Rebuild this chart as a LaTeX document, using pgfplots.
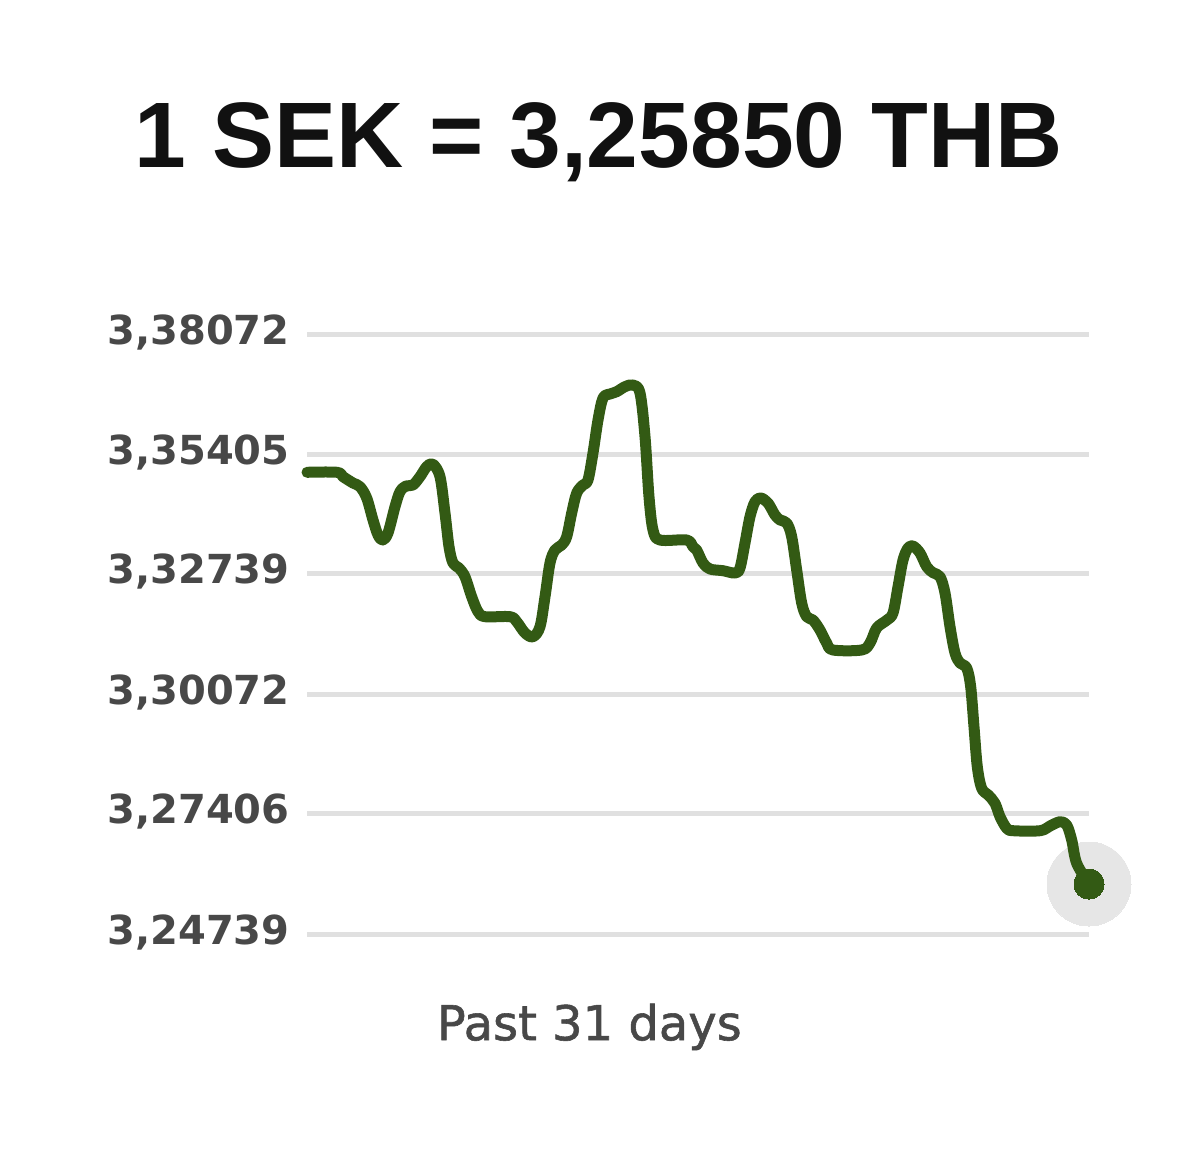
\documentclass[border=0pt]{standalone}
\usepackage{pgfplots}
\pgfplotsset{compat=1.18}
\usepackage{fontspec}
\setmainfont{DejaVu Sans}
\newfontfamily\titlefont{Liberation Sans}
\newfontfamily\medfont[FakeBold=1.2]{DejaVu Sans}
\definecolor{linegreen}{HTML}{335A14}
\definecolor{gridgray}{HTML}{E0E0E0}
\definecolor{halogray}{HTML}{E6E6E6}
\definecolor{labelgray}{HTML}{484848}
\definecolor{titleblack}{HTML}{111111}
\begin{document}
\begin{tikzpicture}
\begin{axis}[
  scale only axis,
  width=391pt, height=300pt,
  xmin=0, xmax=30,
  ymin=3.24739, ymax=3.38072,
  clip=false,
  clip mode=individual,
  axis line style={draw=none},
  tick style={draw=none},
  xtick=\empty,
  ytick={3.24739,3.27406,3.30072,3.32739,3.35405,3.38072},
  yticklabel style={font=\bfseries\fontsize{20}{24}\selectfont, text=labelgray, anchor=east, inner sep=0pt, xshift=-8.5pt, yshift=1pt,
    /pgf/number format/.cd, fixed, fixed zerofill, precision=5, use comma, assume math mode=true},
  ymajorgrids,
  major grid style={draw=gridgray, line width=2.5pt},
]
% invisible bounding frame for the whole picture
\path (rel axis cs:-0.3926,-0.3817) rectangle (rel axis cs:1.1151,1.5567);
\addplot[only marks, mark=*, mark size=21pt, color=halogray, mark options={draw=halogray, fill=halogray, line width=0pt}] coordinates {(30,3.25850)};
\addplot[linegreen, line width=5.5pt, smooth, tension=0.55, line cap=round, line join=round] coordinates {
(0,3.34999) (1.151,3.34999) (1.381,3.34901) (1.765,3.34761) (2.033,3.34679) (2.290,3.34428)
(2.532,3.33939) (2.724,3.33605) (2.904,3.33494) (3.107,3.33650) (3.376,3.34234) (3.568,3.34568)
(3.798,3.34694) (4.066,3.34716) (4.335,3.34901) (4.592,3.35123) (4.822,3.35183) (5.102,3.34901)
(5.294,3.34094) (5.448,3.33345) (5.601,3.32983) (5.831,3.32872) (6.061,3.32679) (6.318,3.32234)
(6.560,3.31901) (6.829,3.31790) (7.788,3.31790) (8.045,3.31679) (8.363,3.31428) (8.670,3.31345)
(8.939,3.31568) (9.131,3.32234) (9.322,3.32983) (9.514,3.33272) (9.771,3.33383) (9.963,3.33568)
(10.155,3.34094) (10.347,3.34539) (10.588,3.34716) (10.780,3.34828) (10.972,3.35428) (11.164,3.36161)
(11.356,3.36650) (11.624,3.36739) (11.881,3.36790) (12.199,3.36901) (12.506,3.36939) (12.775,3.36761)
(12.967,3.35790) (13.120,3.34456) (13.274,3.33716) (13.542,3.33494) (14.566,3.33494) (14.808,3.33345)
(14.950,3.33272) (15.192,3.32983) (15.460,3.32850) (15.959,3.32812) (16.419,3.32761) (16.611,3.32872)
(16.803,3.33428) (16.995,3.34012) (17.187,3.34345) (17.405,3.34428) (17.685,3.34316) (17.954,3.34050)
(18.146,3.33939) (18.403,3.33872) (18.594,3.33568) (18.786,3.32828) (18.978,3.32094) (19.170,3.31790)
(19.412,3.31716) (19.680,3.31494) (19.937,3.31205) (20.179,3.31050) (21.280,3.31050) (21.598,3.31205)
(21.855,3.31539) (22.250,3.31716) (22.481,3.31872) (22.673,3.32456) (22.865,3.33050) (23.057,3.33316)
(23.248,3.33361) (23.517,3.33205) (23.774,3.32901) (24.015,3.32768) (24.284,3.32679) (24.476,3.32316)
(24.668,3.31568) (24.859,3.30983) (25.051,3.30761) (25.308,3.30650) (25.461,3.30234) (25.588,3.29345)
(25.715,3.28456) (25.883,3.27976) (26.137,3.27828) (26.394,3.27643) (26.586,3.27345) (26.843,3.27088)
(27.096,3.27034) (28.120,3.27034) (28.504,3.27139) (28.887,3.27234) (29.144,3.27161) (29.336,3.26828)
(29.528,3.26310) (30,3.25850)};
\addplot[only marks, mark=*, mark size=7.5pt, color=linegreen, mark options={draw=linegreen, fill=linegreen, line width=0pt}] coordinates {(30,3.25850)};
\node[anchor=base, inner sep=0pt, text=titleblack, font=\titlefont\bfseries\fontsize{46.5}{50}\selectfont] at (rel axis cs:0.373,1.278) {1 SEK = 3,25850 THB};
\node[anchor=base, inner sep=0pt, text=labelgray, font=\medfont\fontsize{24}{28}\selectfont] at (rel axis cs:0.361,-0.177) {Past 31 days};
\end{axis}
\end{tikzpicture}
\end{document}
